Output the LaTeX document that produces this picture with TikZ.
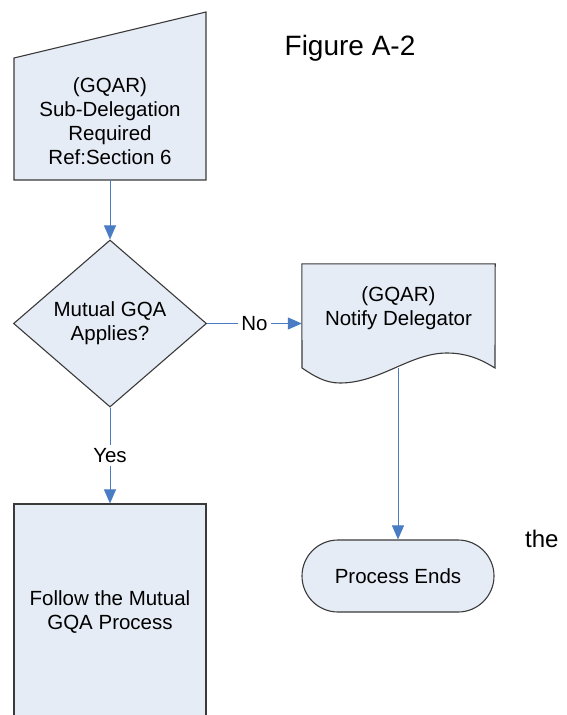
\documentclass[tikz,border=0pt]{standalone}
\usepackage{fontspec}
\setmainfont{Liberation Sans}
\usetikzlibrary{shapes.geometric,shapes.misc,arrows.meta}
\definecolor{boxfill}{HTML}{E6ECF6}
\definecolor{boxedge}{HTML}{3A3A3A}
\definecolor{conncol}{HTML}{4A7CC4}
\tikzset{
  shapestyle/.style={fill=boxfill,draw=boxedge,line width=1.1pt},
  txt/.style={font=\fontsize{20.5}{24}\selectfont,align=center,inner sep=0pt},
  conn/.style={draw=conncol,line width=1pt,-{Triangle[length=14pt,width=12pt]}},
  plainconn/.style={draw=conncol,line width=1pt},
  lbl/.style={font=\fontsize{20.5}{24}\selectfont,fill=white,inner sep=3pt}
}
\begin{document}
\begin{tikzpicture}[x=1pt,y=-1pt]
\useasboundingbox (0,0) rectangle (566,715);
\clip (0,0) rectangle (566,715);
% manual input shape
\path[shapestyle] (14,58) -- (206,12) -- (206,180) -- (14,180) -- cycle;
\node[txt] (inp) at (110,121) {(GQAR)\\Sub-Delegation\\Required\\Ref:Section 6};
\coordinate (inpB) at (110,180);
% decision
\node[diamond,shapestyle,txt,aspect=1.15,minimum width=193pt,minimum height=167pt] (dia) at (110,323.5) {Mutual GQA\\Applies?};
% document shape
\node[minimum width=193pt,minimum height=104pt,inner sep=0pt] (doc) at (398.5,316) {};
\path[shapestyle] (doc.north west) -- (doc.north east) -- (495,368)
  .. controls (485,362) and (470,353) .. (447,353)
  .. controls (410,353) and (380,383) .. (340,383)
  .. controls (325,383) and (314,376) .. (302,368) -- cycle;
\node[txt] (doctext) at (398.5,308.5) {(GQAR)\\Notify Delegator};
\coordinate (docB) at (398,368);
% terminator
\node[rounded rectangle,shapestyle,txt,minimum width=192pt,minimum height=72pt] (term) at (398,576) {Process Ends};
% process rectangle (cut at bottom)
\node[rectangle,shapestyle,txt,minimum width=192pt,minimum height=216pt] (proc) at (110,612) {Follow the Mutual\\GQA Process};
% texts
\node[anchor=base,inner sep=0pt,font=\fontsize{28}{32}\selectfont] (fig) at (350,55) {Figure A-2};
\node[anchor=base west,inner sep=0pt,font=\fontsize{24}{28}\selectfont] (the) at (525,547) {the};
% connectors
\draw[conn] (inpB) -- (dia.north);
\draw[conn] (dia.east) -- node[lbl] {No} (dia.east -| doc.west);
\draw[conn] (dia.south) -- node[lbl] {Yes} (proc.north);
\draw[conn] (docB) -- (term.north);
\end{tikzpicture}
\end{document}
